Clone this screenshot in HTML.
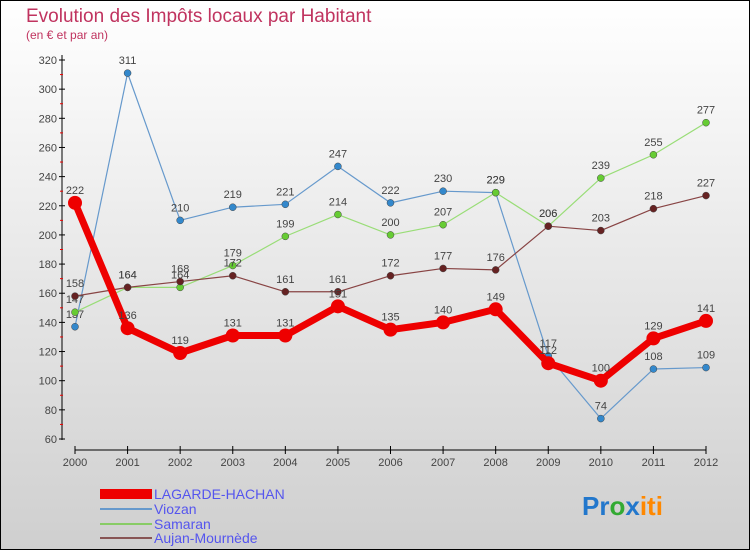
<!DOCTYPE html>
<html><head><meta charset="utf-8"><style>
body{margin:0;width:750px;height:550px;overflow:hidden;font-family:"Liberation Sans",sans-serif}
svg text{font-family:"Liberation Sans",sans-serif}
</style></head><body>
<svg width="750" height="550" xmlns="http://www.w3.org/2000/svg">
<defs><linearGradient id="bg" x1="0" y1="0" x2="0" y2="1"><stop offset="0" stop-color="#ffffff"/><stop offset="1" stop-color="#cfcfcf"/></linearGradient></defs>
<rect x="0.5" y="0.5" width="749" height="549" fill="url(#bg)" stroke="#000"/>
<text x="26" y="22" font-size="19" fill="#c0335f">Evolution des Impôts locaux par Habitant</text>
<text x="26" y="39" font-size="12" fill="#c0335f">(en € et par an)</text>
<g id="axes"></g>
<g id="series"></g>
<g>
<rect x="100" y="489" width="52" height="10" fill="#e00"/>
<text x="154" y="499" font-size="14" fill="#5555ee">LAGARDE-HACHAN</text>
<line x1="100" y1="509" x2="152" y2="509" stroke="#6699cc" stroke-width="2"/>
<text x="154" y="514" font-size="14" fill="#5555ee">Viozan</text>
<line x1="100" y1="524" x2="152" y2="524" stroke="#88cc66" stroke-width="2"/>
<text x="154" y="529" font-size="14" fill="#5555ee">Samaran</text>
<line x1="100" y1="538" x2="152" y2="538" stroke="#885555" stroke-width="2"/>
<text x="154" y="543" font-size="14" fill="#5555ee">Aujan-Mournède</text>
</g>
<text x="582" y="515" font-size="26" font-weight="bold"><tspan fill="#2277cc">Pr</tspan><tspan fill="#33aa33">o</tspan><tspan fill="#2277cc">x</tspan><tspan fill="#ff8800">iti</tspan></text>
</svg>
<script>
const years=[2000,2001,2002,2003,2004,2005,2006,2007,2008,2009,2010,2011,2012];
const yTicks=[60,80,100,120,140,160,180,200,220,240,260,280,300,320];
const lagarde=[222,136,119,131,131,151,135,140,149,112,100,129,141];
const viozan=[137,311,210,219,221,247,222,230,229,117,74,108,109];
const samaran=[147,164,164,179,199,214,200,207,229,206,239,255,277];
const aujan=[158,164,168,172,161,161,172,177,176,206,203,218,227];
const NS="http://www.w3.org/2000/svg";
const x=i=>75+i*(706-75)/(years.length-1);
const y=v=>439-(v-60)*(439-60)/260;
function mk(t,a,p){const e=document.createElementNS(NS,t);for(const k in a)e.setAttribute(k,a[k]);p.appendChild(e);return e;}
const ax=document.getElementById('axes');
let l=mk('line',{x1:62,y1:55,x2:62,y2:440,stroke:'#000'},ax);


l=mk('line',{x1:75,y1:450,x2:706,y2:450,stroke:'#000'},ax);


yTicks.forEach((v,i)=>{
 mk('line',{x1:59,y1:y(v),x2:65,y2:y(v),stroke:'#000'},ax);
 if(i<yTicks.length-1) mk('line',{x1:60,y1:y(v+10),x2:63,y2:y(v+10),stroke:'#e00'},ax);
 const t=mk('text',{x:57,y:y(v)+4,'font-size':11,'text-anchor':'end',fill:'#444'},ax);t.textContent=v;
 
 
});
years.forEach((yr,i)=>{
 mk('line',{x1:x(i),y1:446,x2:x(i),y2:454,stroke:'#000'},ax);
 const t=mk('text',{x:x(i),y:466,'font-size':11,'text-anchor':'middle',fill:'#444'},ax);t.textContent=yr;
 
 
});
const sg=document.getElementById('series');
function series(data,name,color,dot,w,r){
 const g=mk('g',{},sg);
 
 
 const p=mk('polyline',{points:data.map((v,i)=>x(i)+','+y(v)).join(' '),fill:'none',stroke:color,'stroke-width':w,'stroke-linejoin':'round'},g);
 
 
 data.forEach((v,i)=>{
  const c=mk('circle',{cx:x(i),cy:y(v),r:r,fill:dot,stroke:color==='#e00'?'#e00':'#444','stroke-width':color==='#e00'?0:0.5},g);
  
  
  const t=mk('text',{x:x(i),y:y(v)-9,'font-size':11,'text-anchor':'middle',fill:'#444'},g);t.textContent=v;
  
  
 });
}
series(viozan,'viozan','#6699cc','#3388cc',1.2,3.5);
series(samaran,'samaran','#99dd77','#66cc33',1.2,3.5);
series(aujan,'aujan','#884444','#662222',1.2,3.5);
series(lagarde,'lagarde','#e00','#e00',7,7);
</script>
</body></html>
